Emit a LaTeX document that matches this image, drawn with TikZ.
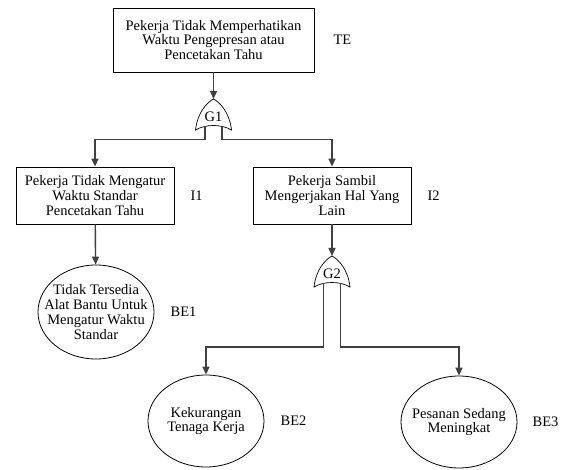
\documentclass[tikz,border=0pt]{standalone}
\usepackage{fontspec}
\setmainfont{Liberation Serif}
\usetikzlibrary{positioning, arrows.meta, calc, shapes.geometric}
\definecolor{linegray}{RGB}{64,64,64}

% OR gate pointing up: name, position, label
\newcommand{\orgate}[3]{%
  \node[gatelabel] (#1) at (#2) {#3};
  \draw[gateline] ($(#1)+(-18,13)$) .. controls ($(#1)+(-16,-5)$) and ($(#1)+(-6,-15)$) .. ($(#1)+(0,-18)$)
    .. controls ($(#1)+(6,-15)$) and ($(#1)+(16,-5)$) .. ($(#1)+(18,13)$)
    .. controls ($(#1)+(8,7)$) and ($(#1)+(-8,7)$) .. cycle;
  \coordinate (#1-in) at ($(#1)+(0,-18)$);
  \coordinate (#1-l) at ($(#1)+(-8.5,9.5)$);
  \coordinate (#1-r) at ($(#1)+(8.5,9.5)$);
}

\begin{document}
\begin{tikzpicture}[
  x=1pt, y=-1pt,
  font=\fontsize{14.5}{14.8}\selectfont,
  eventbox/.style={draw=black, line width=0.8pt, rectangle, align=center, inner sep=0pt, minimum width=158pt, minimum height=57pt},
  basic/.style={draw=black, line width=0.8pt, ellipse, align=center, inner sep=-14pt, minimum width=116pt, minimum height=92pt},
  evlabel/.style={inner sep=0pt, anchor=west},
  gatelabel/.style={inner sep=0pt},
  gateline/.style={draw=black, line width=0.7pt},
  conn/.style={draw=linegray, line width=1.4pt, -{Triangle[length=8pt, width=7pt]}}
]
\useasboundingbox (0,0) rectangle (562,470);

% top event
\node[eventbox, minimum width=201pt, minimum height=64pt] (te) at (213.5,40) {Pekerja Tidak Memperhatikan\\Waktu Pengepresan atau\\Pencetakan Tahu};
\node[evlabel, right=19pt of te] (te-id) {TE};

\orgate{g1}{213.5,117}{G1}

% intermediate events
\node[eventbox] (i1) at (95,195.5) {Pekerja Tidak Mengatur\\Waktu Standar\\Pencetakan Tahu};
\node[evlabel, right=16pt of i1] (i1-id) {I1};
\node[eventbox] (i2) at (332,195.5) {Pekerja Sambil\\Mengerjakan Hal Yang\\Lain};
\node[evlabel, right=16pt of i2] (i2-id) {I2};

\orgate{g2}{332,274}{G2}

% basic events
\node[basic, minimum height=94pt] (be1) at (96,312) {Tidak Tersedia\\Alat Bantu Untuk\\Mengatur Waktu\\Standar};
\node[evlabel, right=16pt of be1] (be1-id) {BE1};
\node[basic] (be2) at (206,421) {Kekurangan\\Tenaga Kerja};
\node[evlabel, right=16pt of be2] (be2-id) {BE2};
\node[basic] (be3) at (459,422) {Pesanan Sedang\\Meningkat};
\node[evlabel, right=15pt of be3] (be3-id) {BE3};

% connectors
\draw[conn] (te) -- (g1-in);
\draw[conn] (g1-l) -- ++(0,13) -| (i1);
\draw[conn] (g1-r) -- ++(0,13) -| (i2);
\draw[conn] (i1) -- (be1);
\draw[conn] (i2) -- (g2-in);
\draw[conn] (g2-l) -- ++(0,63.5) -| (be2);
\draw[conn] (g2-r) -- ++(0,63.5) -| (be3);
\end{tikzpicture}
\end{document}
